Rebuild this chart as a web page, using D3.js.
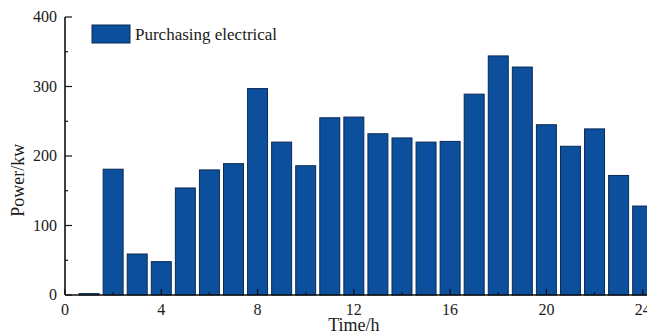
<!DOCTYPE html>
<html lang="en">
<head>
<meta charset="UTF-8">
<title>Purchasing electrical</title>
<script src="https://d3js.org/d3.v7.min.js"></script>
<style>
    body { margin: 0; background: white; }
    svg { display: block; background-color: white; }
    text { font-family: "Liberation Serif", "DejaVu Serif", serif; fill: #1a1a1a; }
</style>
</head>
<body>
<script>
    const hours = d3.range(1, 25);
    const power = [2, 181, 59, 48, 154, 180, 189, 297, 220, 186, 255, 256,
                   232, 226, 220, 221, 289, 344, 328, 245, 214, 239, 172, 128];
    const xTicks = [0, 4, 8, 12, 16, 20, 24];
    const yTicks = [0, 100, 200, 300, 400];
    const seriesName = 'Purchasing electrical';

    const width = 647, height = 333;
    const margin = {top: 17, right: 0, bottom: 38, left: 65};

    const svg = d3.select('body').append('svg')
        .attr('width', width)
        .attr('height', height);

    const x = d3.scaleLinear().domain([0, 24]).range([margin.left, margin.left + 24 * 24.07]);
    const y = d3.scaleLinear().domain([0, 400]).range([height - margin.bottom, margin.top]);

    const barW = (x(1) - x(0)) * 0.83;
    const fill = '#0b4f9d';

    // bars
    svg.append('g').selectAll('rect')
        .data(hours)
        .join('rect')
        .attr('x', (d) => x(d) - barW / 2)
        .attr('y', (d, i) => y(power[i]))
        .attr('width', barW)
        .attr('height', (d, i) => y(0) - y(power[i]))
        .attr('fill', fill)
        .attr('stroke', '#0a2a55')
        .attr('stroke-width', 1);

    // x axis (inward ticks)
    const xAxis = svg.append('g').attr('transform', `translate(0,${y(0)})`);
    xAxis.append('line')
        .attr('x1', x(0)).attr('x2', width)
        .attr('stroke', '#111').attr('stroke-width', 1.6);
    xAxis.selectAll('.minor').data(d3.range(2, 25, 4)).join('line')
        .attr('x1', (d) => x(d)).attr('x2', (d) => x(d))
        .attr('y1', 0).attr('y2', -3)
        .attr('stroke', '#111').attr('stroke-width', 1.2);
    xAxis.selectAll('.major').data(xTicks).join('line')
        .attr('x1', (d) => x(d)).attr('x2', (d) => x(d))
        .attr('y1', 0).attr('y2', -6)
        .attr('stroke', '#111').attr('stroke-width', 1.2);
    xAxis.selectAll('text').data(xTicks).join('text')
        .attr('x', (d) => x(d))
        .attr('y', 20)
        .attr('text-anchor', 'middle')
        .style('font-size', '16px')
        .text((d) => d);

    // y axis (inward ticks)
    const yAxis = svg.append('g').attr('transform', `translate(${x(0)},0)`);
    yAxis.append('line')
        .attr('y1', y(0)).attr('y2', y(400))
        .attr('stroke', '#111').attr('stroke-width', 1.6);
    yAxis.selectAll('.minor').data(d3.range(50, 400, 100)).join('line')
        .attr('y1', (d) => y(d)).attr('y2', (d) => y(d))
        .attr('x1', 0).attr('x2', 3)
        .attr('stroke', '#111').attr('stroke-width', 1.2);
    yAxis.selectAll('.major').data(yTicks).join('line')
        .attr('y1', (d) => y(d)).attr('y2', (d) => y(d))
        .attr('x1', 0).attr('x2', 7)
        .attr('stroke', '#111').attr('stroke-width', 1.2);
    yAxis.selectAll('text').data(yTicks).join('text')
        .attr('x', -8)
        .attr('y', (d) => y(d) + 5)
        .attr('text-anchor', 'end')
        .style('font-size', '16px')
        .text((d) => d);

    // axis titles
    svg.append('text')
        .attr('x', x(12))
        .attr('y', 331)
        .attr('text-anchor', 'middle')
        .style('font-size', '18px')
        .text('Time/h');

    svg.append('text')
        .attr('transform', `translate(24,${y(165)}) rotate(-90)`)
        .attr('text-anchor', 'middle')
        .style('font-size', '18px')
        .text('Power/kw');

    // legend
    const legend = svg.append('g').attr('transform', 'translate(92,25)');
    legend.append('rect')
        .attr('width', 38).attr('height', 18)
        .attr('fill', fill)
        .attr('stroke', '#0a2a55').attr('stroke-width', 1);
    legend.append('text')
        .attr('x', 43).attr('y', 15)
        .style('font-size', '17px')
        .text(seriesName);
</script>
</body>
</html>
